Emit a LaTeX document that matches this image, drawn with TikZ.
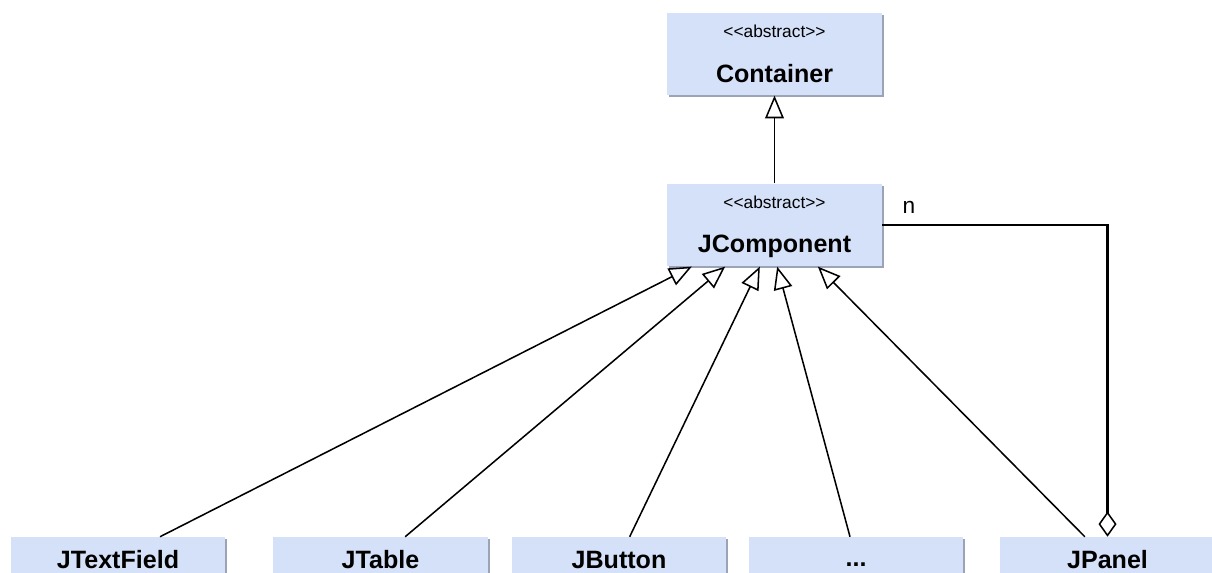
\documentclass[tikz,border=0pt]{standalone}
\usepackage{fontspec}
\setmainfont{Liberation Sans}
\usetikzlibrary{arrows.meta,shadows}

\definecolor{classfill}{HTML}{D4E1F8}
\definecolor{classedge}{HTML}{9AA4B6}

\newcommand{\umlstereo}[1]{{\fontsize{13}{15}\selectfont\rule{0pt}{12.5pt}#1}}
\newcommand{\umlname}[1]{{\fontsize{18.8}{22}\selectfont\bfseries #1\vphantom{p}}}

\tikzset{
  classbox/.style={fill=classfill, minimum width=161pt, inner sep=0pt, align=center,
    drop shadow={shadow xshift=1.5pt, shadow yshift=-1.5pt, opacity=1, fill=classedge}},
  upperbox/.style={classbox, minimum height=62pt},
  lowerbox/.style={classbox, minimum height=37.5pt},
  inherit/.style={-{Triangle[open,length=17pt,width=14pt]}, line width=1.15pt},
  aggr/.style={-{Diamond[open,length=19pt,width=13.5pt,line width=1.15pt]}, line width=2.2pt},
}

\begin{document}
\begin{tikzpicture}[x=0.75pt,y={(0pt,-0.75pt)}]
\useasboundingbox (0,0) rectangle (1212,572);

\node[upperbox] (container) at (774.5,54) {\umlstereo{{<}{<}abstract{>}{>}}\\[18.75pt]\umlname{Container}};
\node[upperbox] (jcomponent) at (774.5,225) {\umlstereo{{<}{<}abstract{>}{>}}\\[18.75pt]\umlname{JComponent}};

% bottom row, cut by the page edge
\node[lowerbox] (jtextfield) at (118,562) {\umlname{JTextField}};
\node[lowerbox] (jtable) at (380.5,562) {\umlname{JTable}};
\node[lowerbox] (jbutton) at (619,562) {\umlname{JButton}};
\node[lowerbox] (jdots) at (856,562) {\umlname{...}};
\node[lowerbox] (jpanel) at (1107.5,562) {\umlname{JPanel}};

\node (multn) at (909,207) {\fontsize{17}{20}\selectfont n};

\draw[inherit] (jcomponent.north) -- (container.south);
\draw[inherit] ([xshift=31.5pt]jtextfield.north) -- ([xshift=-62pt]jcomponent.south);
\draw[inherit] ([xshift=18.5pt]jtable.north) -- ([xshift=-37pt]jcomponent.south);
\draw[inherit] ([xshift=8pt]jbutton.north) -- ([xshift=-11pt]jcomponent.south);
\draw[inherit] ([xshift=-4.5pt]jdots.north) -- ([xshift=2pt]jcomponent.south);
\draw[inherit] ([xshift=-17pt]jpanel.north) -- ([xshift=32.5pt]jcomponent.south);
\draw[aggr] (jcomponent.east) -| (jpanel.north);
\end{tikzpicture}
\end{document}
